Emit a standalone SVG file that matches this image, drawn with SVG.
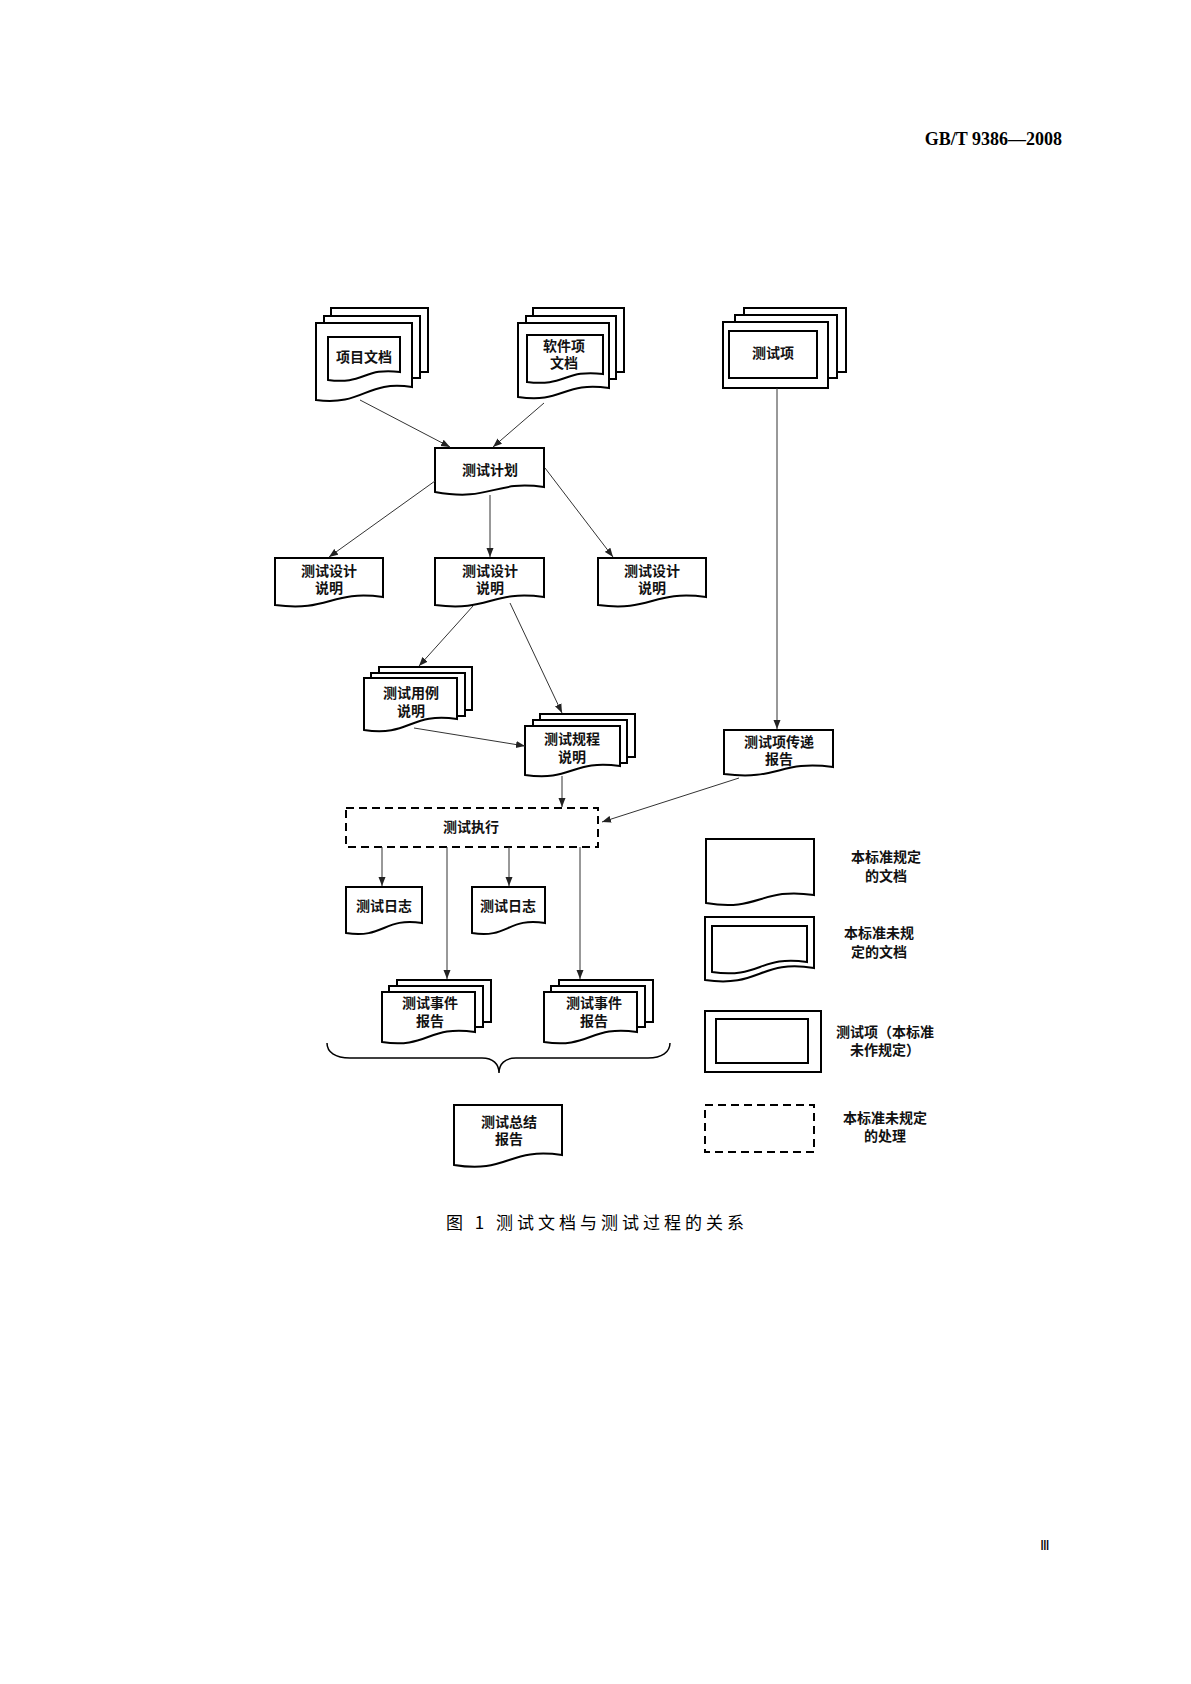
<svg xmlns="http://www.w3.org/2000/svg" width="1191" height="1684" viewBox="0 0 1191 1684">
<style>
.d{fill:#fff;stroke:#000;stroke-width:2}
.t{font-family:"Liberation Serif","Noto Sans CJK SC",serif;font-size:14px;font-weight:bold;text-anchor:middle;fill:#111}
.c{fill:none;stroke:#333;stroke-width:1}
.a{marker-end:url(#ar)}
</style>
<defs><marker id="ar" markerWidth="10" markerHeight="8" refX="9" refY="4" orient="auto" markerUnits="userSpaceOnUse"><path d="M0,0.5 L9,4 L0,7.5 Z" fill="#222"/></marker></defs>
<rect width="1191" height="1684" fill="#fff"/>
<text x="1062" y="145" font-family="Liberation Serif,serif" font-size="18" text-anchor="end" font-weight="bold">GB/T 9386—2008</text>

<g id="xmwd">
<rect class="d" x="331" y="308" width="97" height="64"/>
<rect class="d" x="324" y="316" width="96" height="62"/>
<path class="d" d="M316,323 H412 V387 C365,380 365,406 316,400 Z"/>
<path class="d" d="M328,337 H400 V372 C364,367 364,385 328,380 Z"/>
<text class="t" x="364" y="362">项目文档</text>
</g>
<g id="rjxwd">
<rect class="d" x="533" y="308" width="91" height="64"/>
<rect class="d" x="526" y="316" width="90" height="63"/>
<path class="d" d="M518,323 H609 V388 C563,381 563,404 518,397 Z"/>
<path class="d" d="M527,335 H603 V374 C565,369 565,387 527,382 Z"/>
<text class="t" x="564" y="351">软件项</text>
<text class="t" x="564" y="368">文档</text>
</g>
<g id="csx">
<rect class="d" x="744" y="308" width="102" height="64"/>
<rect class="d" x="735" y="315" width="102" height="63"/>
<rect class="d" x="723" y="322" width="105" height="66"/>
<rect class="d" x="729" y="331" width="88" height="47"/>
<text class="t" x="773" y="358">测试项</text>
</g>
<g id="csjh">
<path class="d" d="M435,448 H544 V487 C492,480 492,502 435,492 Z"/>
<text class="t" x="490" y="475">测试计划</text>
</g>
<g id="sj1">
<path class="d" d="M275,558 H383 V597 C330,590 330,612 275,605 Z"/>
<text class="t" x="329" y="576">测试设计</text><text class="t" x="329" y="593">说明</text>
</g>
<g id="sj2">
<path class="d" d="M435,558 H544 V597 C490,590 490,612 435,605 Z"/>
<text class="t" x="490" y="576">测试设计</text><text class="t" x="490" y="593">说明</text>
</g>
<g id="sj3">
<path class="d" d="M598,558 H706 V597 C652,590 652,612 598,605 Z"/>
<text class="t" x="652" y="576">测试设计</text><text class="t" x="652" y="593">说明</text>
</g>
<g id="yl">
<rect class="d" x="379" y="667" width="93" height="43"/>
<rect class="d" x="371" y="673" width="94" height="43"/>
<path class="d" d="M364,678 H457 V719 C410,712 410,737 364,730 Z"/>
<text class="t" x="411" y="698">测试用例</text><text class="t" x="411" y="716">说明</text>
</g>
<g id="gc">
<rect class="d" x="540" y="714" width="95" height="43"/>
<rect class="d" x="533" y="720" width="94" height="43"/>
<path class="d" d="M525,726 H620 V766 C572,759 572,782 525,775 Z"/>
<text class="t" x="572" y="744">测试规程</text><text class="t" x="572" y="762">说明</text>
</g>
<g id="cd">
<path class="d" d="M724,730 H833 V767 C779,760 779,781 724,774 Z"/>
<text class="t" x="779" y="747">测试项传递</text><text class="t" x="779" y="764">报告</text>
</g>
<g id="zx">
<rect x="346" y="808" width="252" height="39" fill="#fff" stroke="#000" stroke-width="2" stroke-dasharray="8,5"/>
<text class="t" x="471" y="832">测试执行</text>
</g>
<g id="rz1">
<path class="d" d="M346,887 H422 V923 C384,917 384,939 346,933 Z"/>
<text class="t" x="384" y="911">测试日志</text>
</g>
<g id="rz2">
<path class="d" d="M472,887 H545 V923 C508,917 508,939 472,933 Z"/>
<text class="t" x="508" y="911">测试日志</text>
</g>
<g id="sj_1">
<rect class="d" x="397" y="980" width="94" height="42"/>
<rect class="d" x="389" y="986" width="94" height="41"/>
<path class="d" d="M382,992 H475 V1032 C428,1025 428,1049 382,1042 Z"/>
<text class="t" x="430" y="1008">测试事件</text><text class="t" x="430" y="1026">报告</text>
</g>
<g id="sj_2">
<rect class="d" x="559" y="980" width="94" height="42"/>
<rect class="d" x="551" y="986" width="94" height="41"/>
<path class="d" d="M544,992 H637 V1032 C590,1025 590,1049 544,1042 Z"/>
<text class="t" x="594" y="1008">测试事件</text><text class="t" x="594" y="1026">报告</text>
</g>
<g id="zj">
<path class="d" d="M454,1105 H562 V1155 C508,1147 508,1174 454,1165 Z"/>
<text class="t" x="509" y="1127">测试总结</text><text class="t" x="509" y="1144">报告</text>
</g>

<g id="connectors">
<path class="c a" d="M360,400 L450,447"/>
<path class="c a" d="M544,403 L493,447"/>
<path class="c a" d="M435,481 L329,557"/>
<path class="c a" d="M490,495 L490,557"/>
<path class="c a" d="M545,468 L613,557"/>
<path class="c a" d="M473,606 L419,666"/>
<path class="c a" d="M510,603 L562,713"/>
<path class="c a" d="M414,728 L525,746"/>
<path class="c a" d="M777,388 L777,729"/>
<path class="c a" d="M562,776 L562,807"/>
<path class="c a" d="M739,778 L602,822"/>
<path class="c a" d="M382,847 L382,886"/>
<path class="c a" d="M509,847 L509,886"/>
<path class="c a" d="M447,847 L447,979"/>
<path class="c a" d="M580,847 L580,979"/>
<path d="M327,1043 C327,1052 335,1058 350,1058 H482 C493,1058 499,1064 499,1073 C499,1064 505,1058 516,1058 H648 C662,1058 670,1052 670,1043" fill="none" stroke="#000" stroke-width="1.5"/>
</g>

<g id="legend">
<path class="d" d="M706,839 H814 V895 C760,887 760,912 706,903 Z"/>
<text class="t" x="886" y="862">本标准规定</text><text class="t" x="886" y="881">的文档</text>
<path class="d" d="M705,917 H814 V968 C760,959 760,988 705,980 Z"/>
<path class="d" d="M712,926 H807 V962 C760,955 760,979 712,972 Z"/>
<text class="t" x="879" y="938">本标准未规</text><text class="t" x="879" y="957">定的文档</text>
<rect class="d" x="705" y="1011" width="116" height="61"/>
<rect class="d" x="716" y="1019" width="92" height="44"/>
<text class="t" x="885" y="1037">测试项（本标准</text><text class="t" x="885" y="1055">未作规定）</text>
<rect x="705" y="1105" width="109" height="47" fill="#fff" stroke="#000" stroke-width="2" stroke-dasharray="8,5"/>
<text class="t" x="885" y="1123">本标准未规定</text><text class="t" x="885" y="1141">的处理</text>
</g>

<text x="597" y="1229" font-family="Noto Sans CJK SC,sans-serif" font-size="17" text-anchor="middle" letter-spacing="4">图 1  测试文档与测试过程的关系</text>
<text x="1045" y="1550" font-family="Liberation Serif,serif" font-size="14" text-anchor="middle">Ⅲ</text>
</svg>
